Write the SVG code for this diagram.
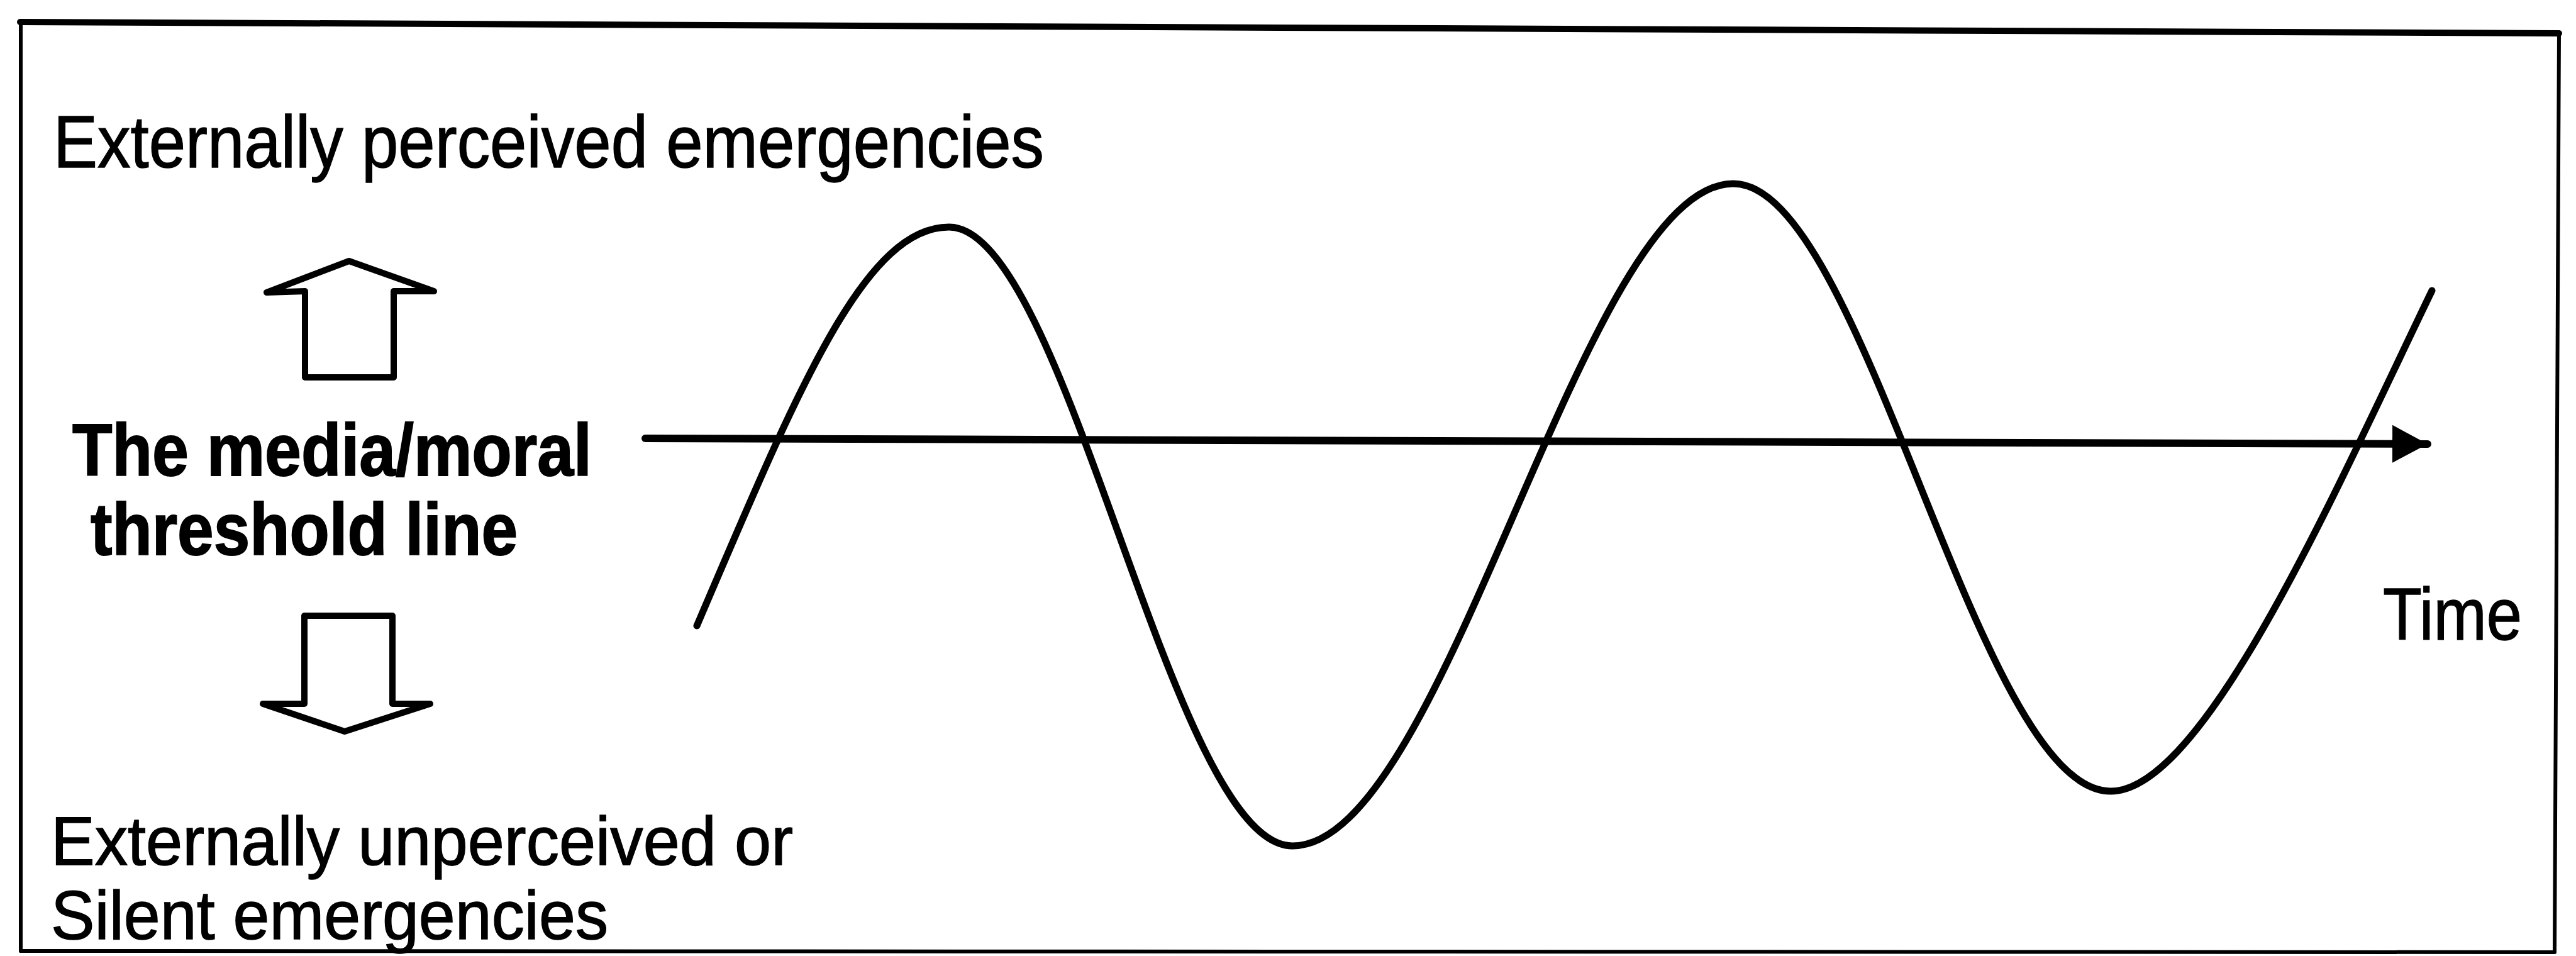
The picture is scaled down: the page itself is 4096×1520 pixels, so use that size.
<svg xmlns="http://www.w3.org/2000/svg" width="4096" height="1520" viewBox="0 0 4096 1520">
<style>
.t{font-family:"Liberation Sans",Arial,sans-serif;font-size:116px;fill:#000;stroke:#000;stroke-width:1.5}
.s{font-size:110px}
.b{font-weight:bold;stroke-width:2}
.ln{fill:none;stroke:#000;stroke-linejoin:round;stroke-linecap:round}
.blk{fill:#fff;stroke:#000;stroke-width:10;stroke-linejoin:round}
</style>
<defs>
<marker id="ah" markerUnits="userSpaceOnUse" markerWidth="64" markerHeight="64" refX="56" refY="32" orient="auto">
<path d="M0,2 L56,32 L0,62 Z" fill="#000"/>
</marker>
</defs>
<rect width="4096" height="1520" fill="#fff"/>
<g id="frame">
<line class="ln" x1="32" y1="35" x2="4069" y2="53" stroke-width="10"/>
<line class="ln" x1="33" y1="35" x2="33" y2="1512" stroke-width="6"/>
<line class="ln" x1="4069" y1="53" x2="4062" y2="1512" stroke-width="6"/>
<line class="ln" x1="33" y1="1512" x2="4062" y2="1514" stroke-width="6"/>
</g>
<g id="label-perceived">
<text class="t" x="85" y="266" textLength="1575" lengthAdjust="spacingAndGlyphs">Externally perceived emergencies</text>
</g>
<g id="arrow-up">
<polygon class="blk" points="555,415 690,463 626,463 626,600 485,600 485,463 424,465"/>
</g>
<g id="label-threshold">
<text class="t b" x="115" y="756" textLength="826" lengthAdjust="spacingAndGlyphs">The media/moral</text>
<text class="t b" x="144" y="882" textLength="679" lengthAdjust="spacingAndGlyphs">threshold line</text>
</g>
<g id="arrow-down">
<polygon class="blk" points="484,979 624,979 624,1119 684,1119 548,1163 418,1119 484,1119"/>
</g>
<g id="label-unperceived">
<text class="t s" x="81" y="1375" textLength="1180" lengthAdjust="spacingAndGlyphs">Externally unperceived or</text>
<text class="t s" x="81" y="1493" textLength="886" lengthAdjust="spacingAndGlyphs">Silent emergencies</text>
</g>
<g id="label-time">
<text class="t" x="3789" y="1017" textLength="221" lengthAdjust="spacingAndGlyphs">Time</text>
</g>
<g id="connectors">
<line class="ln" x1="1026" y1="697" x2="3860" y2="706" stroke-width="12" stroke-linecap="butt" marker-end="url(#ah)"/>
<path id="wave" class="ln" stroke-width="11" d="M1108,995 C1268,621 1374,361 1509,361 C1697,361 1862,1345 2055,1345 C2300,1345 2515,292 2756,292 C2964,292 3143,1258 3356,1258 C3506,1258 3717,772 3867,462"/>
</g>
</svg>
